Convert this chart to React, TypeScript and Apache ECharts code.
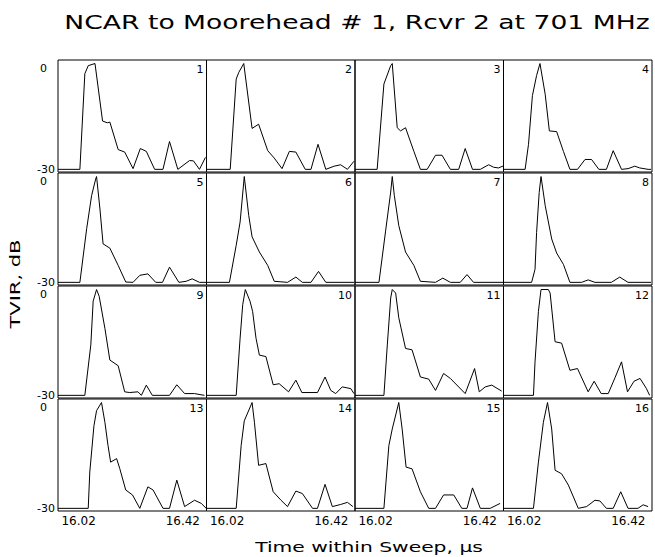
import React, { useEffect, useRef } from "react";
import * as echarts from "echarts";

const TITLE = "NCAR to Moorehead # 1, Rcvr 2 at 701 MHz";
const X_TITLE = "Time within Sweep, μs";
const Y_TITLE = "TVIR, dB";
const X_TICKS = [16.02, 16.42];
const Y_TICK_BOTTOM = [-30];
const Y_TICK_TOP = [0];
const PANEL_NUMBERS = ["1", "2", "3", "4", "5", "6", "7", "8", "9", "10", "11", "12", "13", "14", "15", "16"];
const X_MIN = 15.875;
const X_MAX = 16.445;
const Y_MIN = -30.75;
const Y_MAX = 1.0;

const panel1 = [[15.875,-30],[15.959,-30],[15.978,-2.9],[15.991,-0.6],[16.017,0],[16.046,-16.3],[16.064,-16.8],[16.074,-16.6],[16.106,-24.4],[16.131,-25.1],[16.163,-29.8],[16.191,-24.1],[16.214,-24.9],[16.246,-30],[16.278,-30],[16.303,-22.1],[16.335,-30],[16.380,-27.5],[16.395,-27.6],[16.418,-30],[16.441,-26.6]];
const panel2 = [[15.875,-30],[15.966,-30],[15.989,-4.4],[15.999,-2.5],[16.018,0],[16.050,-18.4],[16.075,-17.2],[16.110,-24.7],[16.135,-26.8],[16.165,-29.8],[16.193,-24.9],[16.218,-25.1],[16.254,-30],[16.276,-30],[16.303,-22.9],[16.333,-30],[16.365,-29.1],[16.390,-28.7],[16.416,-30],[16.441,-27.7]];
const panel3 = [[15.875,-30],[15.960,-30],[15.986,-5.8],[16.012,-0.6],[16.018,0],[16.037,-18.2],[16.050,-19.1],[16.069,-18.2],[16.101,-24.9],[16.126,-30],[16.152,-30],[16.184,-26],[16.209,-26],[16.241,-30],[16.273,-30],[16.298,-24.1],[16.326,-30],[16.356,-30],[16.388,-28.7],[16.407,-29.4],[16.426,-29.6],[16.445,-29]];
const panel4 = [[15.875,-30],[15.958,-30],[15.971,-22.9],[15.986,-9.1],[16.002,-3.4],[16.015,0],[16.035,-8.7],[16.051,-19.1],[16.079,-19.3],[16.105,-24.9],[16.130,-30],[16.159,-30],[16.188,-27.2],[16.213,-27.2],[16.241,-30],[16.270,-30],[16.296,-24.7],[16.328,-30],[16.353,-29.8],[16.379,-29.1],[16.398,-29.6],[16.430,-30],[16.441,-30]];
const panel5 = [[15.875,-30],[15.959,-30],[15.985,-14.8],[16.004,-5.4],[16.020,-0.6],[16.023,0],[16.036,-9.2],[16.048,-19.1],[16.074,-20.3],[16.106,-25.2],[16.135,-29.9],[16.163,-30],[16.189,-28],[16.220,-27.6],[16.250,-30],[16.276,-30],[16.303,-25.7],[16.339,-30],[16.367,-29.7],[16.390,-29],[16.418,-30],[16.444,-30]];
const panel6 = [[15.875,-30],[15.963,-30],[15.989,-19.5],[16.004,-12.9],[16.020,0],[16.037,-11],[16.050,-17.1],[16.078,-21.4],[16.110,-25.2],[16.135,-29.7],[16.186,-30],[16.218,-28.5],[16.243,-30],[16.276,-30],[16.305,-26.9],[16.333,-30],[16.441,-30]];
const panel7 = [[15.875,-30],[15.967,-30],[15.992,-15.7],[16.012,-4.4],[16.018,0],[16.026,-5.4],[16.043,-13.9],[16.069,-21.4],[16.101,-25.2],[16.126,-29.7],[16.184,-30],[16.212,-28.8],[16.241,-30],[16.279,-30],[16.305,-27.8],[16.330,-30],[16.445,-30]];
const panel8 = [[15.875,-30],[15.983,-30],[15.996,-26.3],[16.002,-15.9],[16.012,-4.5],[16.019,0],[16.035,-8.2],[16.060,-17.7],[16.079,-21.7],[16.105,-24.9],[16.130,-30],[16.175,-30],[16.200,-29.3],[16.226,-30],[16.289,-30],[16.321,-28.5],[16.353,-30],[16.441,-30]];
const panel9 = [[15.875,-30],[15.978,-30],[16.001,-15.7],[16.010,-3.3],[16.023,0],[16.033,-1.9],[16.055,-11],[16.074,-20],[16.106,-21.6],[16.131,-29],[16.150,-29.2],[16.182,-29],[16.195,-30],[16.214,-27.1],[16.237,-30],[16.303,-30],[16.331,-27],[16.361,-29.5],[16.399,-29.5],[16.437,-30]];
const panel10 = [[15.875,-30],[15.989,-30],[16.004,-13.8],[16.014,-4.3],[16.024,0],[16.042,-3.3],[16.052,-6.2],[16.065,-13.8],[16.078,-18.6],[16.103,-19],[16.131,-27],[16.154,-26.7],[16.190,-29],[16.218,-25.7],[16.241,-29.2],[16.301,-29.2],[16.330,-24.8],[16.352,-28.6],[16.371,-29.5],[16.396,-27.6],[16.429,-28.1],[16.441,-29.5]];
const panel11 = [[15.875,-30],[15.986,-30],[15.999,-15.7],[16.012,-2.4],[16.018,0],[16.031,-1],[16.043,-8],[16.069,-16.7],[16.094,-17.1],[16.126,-24.8],[16.158,-25.4],[16.184,-28.6],[16.215,-23.8],[16.241,-25.2],[16.298,-29.5],[16.334,-22.4],[16.352,-29],[16.375,-27.6],[16.400,-27.1],[16.438,-28.8]];
const panel12 = [[15.875,-30],[15.990,-30],[15.996,-20.5],[16.009,-6.2],[16.019,0],[16.047,0],[16.054,-1],[16.073,-14.8],[16.098,-15.2],[16.130,-22.9],[16.159,-22.4],[16.200,-29],[16.223,-26],[16.250,-29.5],[16.277,-29.5],[16.303,-25],[16.328,-20.5],[16.351,-29],[16.376,-26],[16.399,-25.2],[16.423,-28],[16.436,-30]];
const panel13 = [[15.875,-30],[15.991,-30],[15.997,-19.7],[16.013,-6.6],[16.023,-2.3],[16.042,0],[16.055,-5.6],[16.067,-12.2],[16.077,-16.9],[16.100,-15.9],[16.112,-18.7],[16.135,-24.8],[16.161,-26.2],[16.189,-30],[16.220,-23.9],[16.240,-24.8],[16.278,-30],[16.303,-30],[16.331,-22],[16.361,-29.5],[16.399,-27.7],[16.425,-28.6],[16.444,-30]];
const panel14 = [[15.875,-30],[15.989,-30],[16.008,-12.2],[16.020,-5.2],[16.050,0],[16.059,-5.6],[16.075,-17.8],[16.103,-17.3],[16.131,-25.3],[16.161,-27.7],[16.186,-29.5],[16.218,-25.1],[16.243,-25.8],[16.282,-30],[16.301,-30],[16.330,-23.2],[16.358,-29.5],[16.390,-28.9],[16.416,-28.3],[16.437,-29.5]];
const panel15 = [[15.875,-30],[15.986,-30],[16.005,-12.2],[16.018,-7.5],[16.043,0],[16.056,-7.5],[16.071,-18.3],[16.094,-18.8],[16.126,-25.3],[16.158,-30],[16.184,-30],[16.215,-26.2],[16.254,-26.2],[16.285,-30],[16.305,-30],[16.326,-24.2],[16.356,-30],[16.394,-30],[16.432,-28.6]];
const panel16 = [[15.875,-30],[15.990,-30],[16.009,-16.9],[16.028,-5.6],[16.044,0],[16.060,-7.5],[16.073,-19.2],[16.098,-20.2],[16.124,-23.4],[16.162,-30],[16.194,-29.5],[16.226,-27.7],[16.245,-27.9],[16.270,-30],[16.296,-30],[16.325,-25.3],[16.353,-30],[16.391,-30],[16.411,-29],[16.430,-29.5]];

const PANELS = [panel1, panel2, panel3, panel4, panel5, panel6, panel7, panel8, panel9, panel10, panel11, panel12, panel13, panel14, panel15, panel16];

const FONT = "'DejaVu Sans', sans-serif";
const COL_LEFT = [58, 206.5, 355, 503.5];
const COL_W = 148.5;
const ROW_TOP = [60, 173, 286, 399];
const ROW_H = 112;

export default function App() {
  const ref = useRef<HTMLDivElement>(null);
  useEffect(() => {
    if (!ref.current) return;
    const chart = echarts.init(ref.current, undefined, { renderer: "svg" });
    const grids: any[] = [];
    const xAxes: any[] = [];
    const yAxes: any[] = [];
    const extraY: any[] = [];
    const series: any[] = [];
    const graphics: any[] = [];
    PANELS.forEach((data, i) => {
      const row = Math.floor(i / 4);
      const col = i % 4;
      const left = COL_LEFT[col];
      const top = ROW_TOP[row];
      grids.push({
        left, top, width: COL_W, height: ROW_H,
        show: true, borderColor: "#000", borderWidth: 1, backgroundColor: "transparent",
      });
      xAxes.push({
        type: "value", gridIndex: i, min: X_MIN, max: X_MAX, position: "bottom",
        axisLine: { show: false, onZero: false }, splitLine: { show: false },
        axisTick: { show: false },
        axisLabel: {
          show: row === 3, customValues: X_TICKS,
          formatter: (v: number) => v.toFixed(2),
          align: "right", margin: 4, fontSize: 12, color: "#000", fontFamily: FONT,
        },
      });
      yAxes.push({
        type: "value", gridIndex: i, min: Y_MIN, max: Y_MAX, position: "left",
        axisLine: { show: false, onZero: false }, splitLine: { show: false },
        axisTick: { show: false },
        axisLabel: {
          show: col === 0, customValues: Y_TICK_BOTTOM,
          formatter: (v: number) => String(v),
          align: "right", margin: 3, fontSize: 11, color: "#000", fontFamily: FONT,
        },
      });
      if (col === 0) {
        extraY.push({
          type: "value", gridIndex: i, min: Y_MIN, max: Y_MAX, position: "left",
          axisLine: { show: false, onZero: false }, splitLine: { show: false },
          axisTick: { show: false },
          axisLabel: {
            show: true, customValues: Y_TICK_TOP,
            formatter: (v: number) => "\n" + String(v),
            lineHeight: 10,
            align: "right", margin: 11, fontSize: 11, color: "#000", fontFamily: FONT,
          },
        });
      }
      series.push({
        type: "line", xAxisIndex: i, yAxisIndex: i, data,
        symbol: "none", showSymbol: false, silent: true, clip: true,
        lineStyle: { color: "#000", width: 1 },
      });
      graphics.push({
        type: "text", x: left + COL_W - 3, y: top + 9,
        style: {
          text: PANEL_NUMBERS[i], fontSize: 11, fontFamily: FONT, fill: "#000",
          align: "right", verticalAlign: "middle", textAlign: "right", textVerticalAlign: "middle",
        },
      });
    });
    graphics.push({
      type: "text", x: 357, y: 22, scaleX: 1.4,
      style: {
        text: TITLE, fontSize: 19, fontFamily: FONT, fill: "#000",
        align: "center", verticalAlign: "middle", textAlign: "center", textVerticalAlign: "middle",
      },
    });
    graphics.push({
      type: "text", x: 369, y: 547, scaleX: 1.45,
      style: {
        text: X_TITLE, fontSize: 14, fontFamily: FONT, fill: "#000",
        align: "center", verticalAlign: "middle", textAlign: "center", textVerticalAlign: "middle",
      },
    });
    graphics.push({
      type: "text", x: 15, y: 284, scaleX: 1.5, rotation: Math.PI / 2,
      style: {
        text: Y_TITLE, fontSize: 14, fontFamily: FONT, fill: "#000",
        align: "center", verticalAlign: "middle", textAlign: "center", textVerticalAlign: "middle",
      },
    });
    chart.setOption({
      animation: false,
      backgroundColor: "#fff",
      grid: grids,
      xAxis: xAxes,
      yAxis: yAxes.concat(extraY),
      series,
      graphic: graphics,
    });
    return () => chart.dispose();
  }, []);
  return (
    <div
      ref={ref}
      style={{ position: "absolute", left: 0, top: 0, width: 655, height: 557 }}
    />
  );
}
